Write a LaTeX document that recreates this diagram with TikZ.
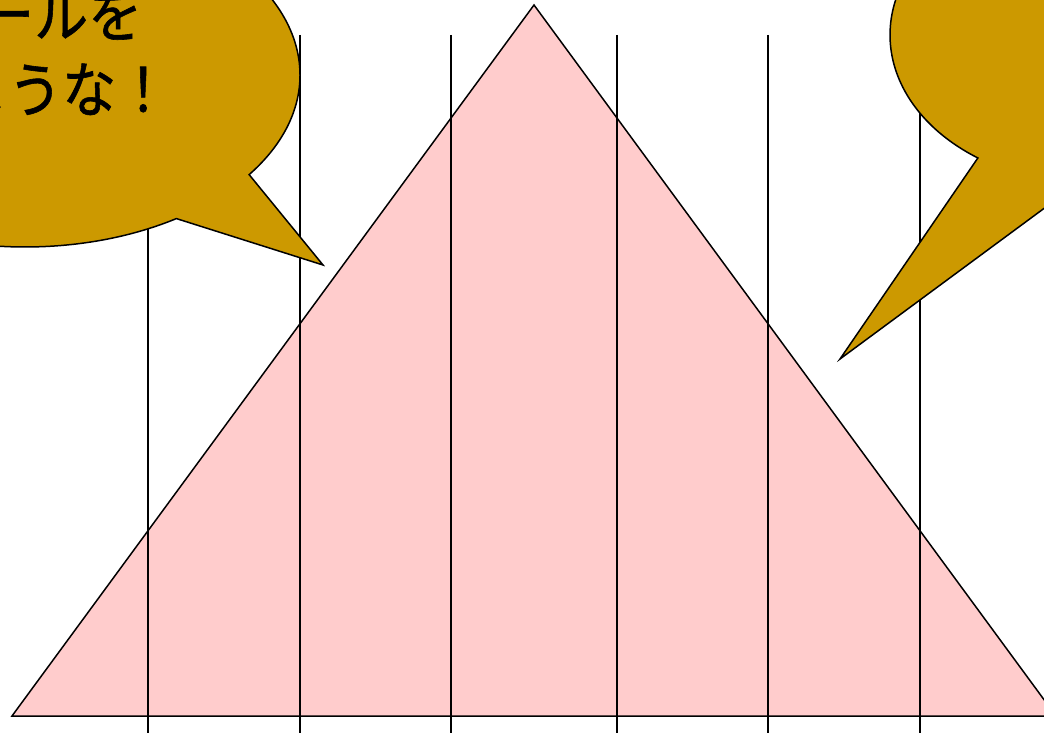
\documentclass[tikz,border=0pt]{standalone}
\usepackage{fontspec}
\newfontfamily\cjkfont[FakeBold=1]{Noto Sans CJK JP}
\definecolor{trifill}{HTML}{FFCCCC}
\definecolor{bubblefill}{HTML}{CC9900}
\begin{document}
\begin{tikzpicture}[x=1pt,y=1pt,
  outline/.style={draw=black,line width=1.5pt,line join=miter},
  gridline/.style={draw=black,line width=1.5pt},
  bubble/.style={fill=bubblefill,draw=black,line width=1.5pt,line join=miter},
  bubbletext/.style={inner sep=0pt,yscale=1.12,transform shape,font=\cjkfont\fontsize{54pt}{64pt}\selectfont}]
\useasboundingbox (0,0) rectangle (1044,732);
\clip (0,0) rectangle (1044,732);
% triangle
\path[fill=trifill,outline] (12,16) -- (534,727) -- (1056,16) -- cycle;
% vertical lines
\foreach \xx in {148,300,451,617,768,920}{
  \draw[gridline] (\xx,697) -- (\xx,-2);
}
% left bubble
\path[bubble] ([shift={(25pt,657pt)}]-35.4:275pt and 172pt)
  arc[start angle=-35.4,end angle=303.4,x radius=275pt,y radius=172pt]
  -- (323,467) -- cycle;
% right bubble
\path[bubble] ([shift={(1090pt,697pt)}]266.6:200pt and 148.5pt)
  arc[start angle=266.6,end angle=595.9,x radius=200pt,y radius=148.5pt]
  -- (840,373) -- cycle;
% text
\node[bubbletext,anchor=base west] (line1) at (-20,695) {ールを};
\node[bubbletext,anchor=base west] (line2) at (-46,620) {ような！};
\end{tikzpicture}
\end{document}
